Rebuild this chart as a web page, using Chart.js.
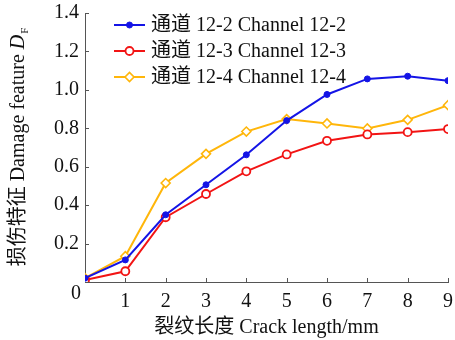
<!DOCTYPE html>
<html>
<head>
<meta charset="utf-8">
<script src="https://cdn.jsdelivr.net/npm/chart.js@4.4.1/dist/chart.umd.min.js"></script>
<style>
  html, body { margin: 0; padding: 0; background: #fff; }
  #wrap { width: 455px; height: 340px; }
</style>
</head>
<body>
<div id="wrap"><canvas id="damageChart"></canvas></div>
<script>
// crack length (mm)
const crackLength = [0, 1, 2, 3, 4, 5, 6, 7, 8, 9];

// damage feature D_F per channel
const channel12_2 = [0.02, 0.115, 0.35, 0.506, 0.662, 0.84, 0.976, 1.057, 1.071, 1.048];
const channel12_3 = [0.01, 0.056, 0.337, 0.458, 0.576, 0.664, 0.735, 0.768, 0.78, 0.796];
const channel12_4 = [0.02, 0.134, 0.515, 0.667, 0.783, 0.848, 0.825, 0.799, 0.844, 0.92];

const seriesNames = ["通道 12-2 Channel 12-2", "通道 12-3 Channel 12-3", "通道 12-4 Channel 12-4"];

const yTicks = [0, 0.2, 0.4, 0.6, 0.8, 1.0, 1.2, 1.4];
const xTicks = [0, 1, 2, 3, 4, 5, 6, 7, 8, 9];

const FONT = "'Liberation Serif', 'Noto Sans CJK SC', serif";
const FS = 20;
const axisColor = "#555";

function pts(vals) {
  return crackLength.map((x, i) => ({ x: x, y: vals[i] }));
}

// little inward tick marks, the "0" origin label, legend and y title
const decorPlugin = {
  id: "decor",
  afterDraw(chart) {
    const ctx = chart.ctx;
    const xs = chart.scales.x, ys = chart.scales.y;
    const area = chart.chartArea;

    ctx.save();
    ctx.strokeStyle = axisColor;
    ctx.lineWidth = 1;
    ctx.beginPath();
    xTicks.forEach(t => {
      if (t === 0) return;
      const px = Math.round(xs.getPixelForValue(t)) + 0.5;
      ctx.moveTo(px, area.bottom);
      ctx.lineTo(px, area.bottom - 4);
    });
    yTicks.forEach(t => {
      if (t === 0) return;
      const py = Math.round(ys.getPixelForValue(t)) + 0.5;
      ctx.moveTo(area.left, py);
      ctx.lineTo(area.left + 4, py);
    });
    ctx.stroke();

    // origin label
    ctx.fillStyle = "#111";
    ctx.font = FS + "px " + FONT;
    ctx.textAlign = "center";
    ctx.textBaseline = "middle";
    ctx.fillText("0", area.left - 9, area.bottom + 12);

    // legend
    chart.data.datasets.forEach((ds, i) => {
      const y = area.top + 12 + i * 26;
      const x0 = area.left + 29;
      ctx.strokeStyle = ds.borderColor;
      ctx.lineWidth = 2;
      ctx.beginPath();
      ctx.moveTo(x0, y);
      ctx.lineTo(x0 + 31, y);
      ctx.stroke();
      ctx.fillStyle = ds.pointBackgroundColor;
      ctx.strokeStyle = ds.borderColor;
      ctx.lineWidth = ds.pointBorderWidth;
      Chart.helpers.drawPoint(ctx, {
        pointStyle: ds.pointStyle,
        radius: ds.pointRadius,
        borderWidth: ds.pointBorderWidth,
        rotation: 0
      }, x0 + 15.5, y);
      ctx.fillStyle = "#111";
      ctx.font = FS + "px " + FONT;
      ctx.textAlign = "left";
      ctx.fillText(ds.label, x0 + 37, y + 1);
    });

    // y title with italic D and subscript F
    const cy = (area.top + area.bottom) / 2;
    ctx.translate(19, cy);
    ctx.rotate(-Math.PI / 2);
    const main = "损伤特征 Damage feature ";
    const fMain = FS + "px " + FONT;
    const fItal = "italic " + FS + "px " + FONT;
    const fSub = "11px " + FONT;
    ctx.font = fMain; const w1 = ctx.measureText(main).width;
    ctx.font = fItal; const w2 = ctx.measureText("D").width;
    ctx.font = fSub; const w3 = ctx.measureText("F").width;
    let x = -(w1 + w2 + w3) / 2;
    ctx.textAlign = "left";
    ctx.textBaseline = "middle";
    ctx.font = fMain; ctx.fillText(main, x, 0); x += w1;
    ctx.font = fItal; ctx.fillText("D", x, 0); x += w2;
    ctx.font = fSub; ctx.fillText("F", x + 1, 6);
    ctx.restore();
  }
};

const ctx = document.getElementById("damageChart").getContext("2d");

new Chart(ctx, {
  type: "line",
  data: {
    datasets: [
      {
        label: seriesNames[0],
        data: pts(channel12_2),
        borderColor: "#1414e6",
        backgroundColor: "#1414e6",
        pointBackgroundColor: "#1414e6",
        pointStyle: "circle",
        pointRadius: 3,
        pointBorderWidth: 1,
        borderWidth: 2
      },
      {
        label: seriesNames[1],
        data: pts(channel12_3),
        borderColor: "#f21414",
        backgroundColor: "#fff",
        pointBackgroundColor: "#fff",
        pointStyle: "circle",
        pointRadius: 4,
        pointBorderWidth: 1.8,
        borderWidth: 2
      },
      {
        label: seriesNames[2],
        data: pts(channel12_4),
        borderColor: "#ffb60a",
        backgroundColor: "#fff",
        pointBackgroundColor: "#fff",
        pointStyle: "rectRot",
        pointRadius: 4.5,
        pointBorderWidth: 1.6,
        borderWidth: 2
      }
    ]
  },
  options: {
    responsive: true,
    maintainAspectRatio: false,
    animation: false,
    layout: { padding: { top: 13, right: 7, left: 0, bottom: 0 } },
    plugins: {
      legend: { display: false },
      tooltip: { enabled: false }
    },
    scales: {
      x: {
        type: "linear",
        min: 0,
        max: 9,
        afterBuildTicks: s => { s.ticks = xTicks.map(v => ({ value: v })); },
        afterFit: s => { s.height = 58; s.paddingLeft = 0; s.paddingRight = 0; },
        grid: { display: false, drawTicks: false },
        border: { display: true, color: axisColor, width: 1 },
        ticks: {
          color: "#111",
          font: { family: FONT, size: FS },
          padding: 8,
          maxRotation: 0,
          callback: v => v === 0 ? "" : String(v)
        },
        title: {
          display: true,
          text: "裂纹长度 Crack length/mm",
          color: "#111",
          font: { family: FONT, size: FS },
          padding: { top: 0, bottom: 0 }
        }
      },
      y: {
        min: 0,
        max: 1.4,
        afterBuildTicks: s => { s.ticks = yTicks.map(v => ({ value: v })); },
        afterFit: s => { s.width = 85; s.paddingTop = 0; s.paddingBottom = 0; },
        grid: { display: false, drawTicks: false },
        border: { display: true, color: axisColor, width: 1 },
        ticks: {
          color: "#111",
          font: { family: FONT, size: FS },
          padding: 6,
          callback: v => v === 0 ? "" : v.toFixed(1)
        }
      }
    }
  },
  plugins: [decorPlugin]
});
</script>
</body>
</html>
